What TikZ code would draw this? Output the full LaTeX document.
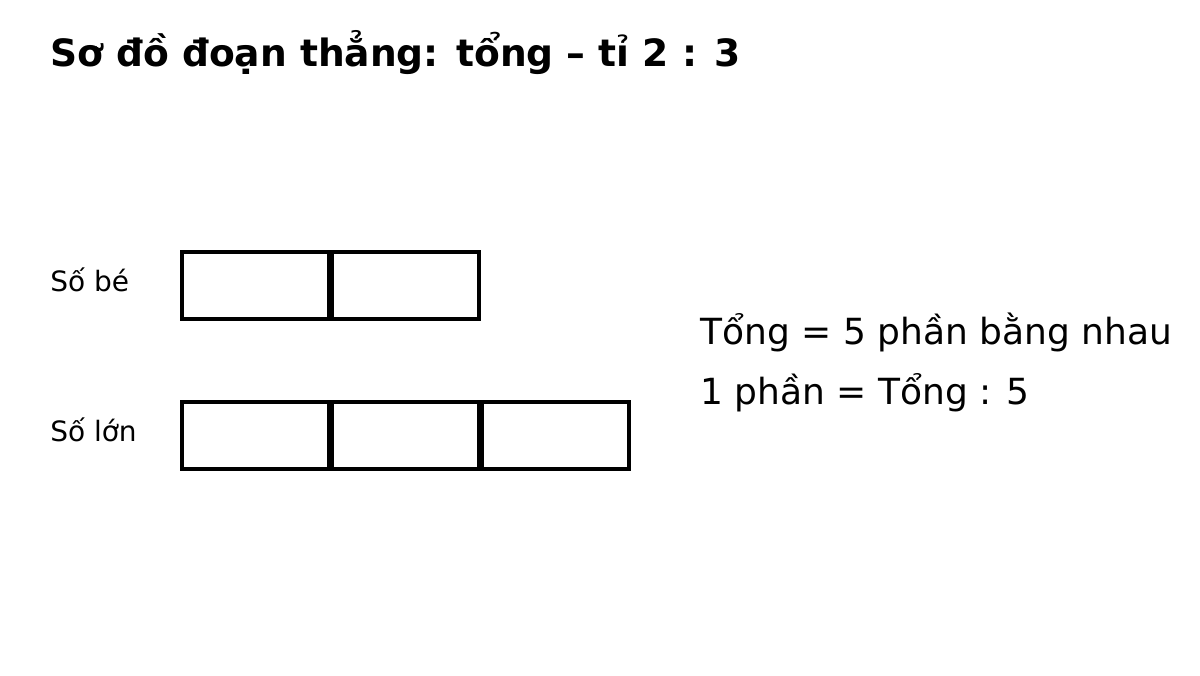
\documentclass[tikz,border=0pt]{standalone}
\usepackage{fontspec}
\setmainfont{DejaVu Sans}
\usetikzlibrary{positioning}

\tikzset{
  part/.style={draw,line width=2.6pt,minimum width=110.25pt,minimum height=50.25pt,inner sep=0pt,outer sep=0pt},
  lbl/.style={anchor=base west,inner sep=0pt,font=\fontsize{21}{25}\selectfont},
  note/.style={anchor=base west,inner sep=0pt,font=\fontsize{27}{32}\selectfont}
}

\begin{document}
\begin{tikzpicture}[x=0.75pt,y=-0.75pt]
      \useasboundingbox (0,0) rectangle (1200,675);
      \node[anchor=base west,inner sep=0pt,font=\fontsize{28.2}{34}\selectfont\bfseries] (title) at (50,66) {Sơ đồ đoạn thẳng: tổng – tỉ 2 : 3};

      \node[lbl] (sobe) at (50,291) {Số bé};
      \node[lbl] (solon) at (50,441) {Số lớn};

      \node[part,anchor=north west] (be1) at (182,252) {};
      \node[part,right=2.25pt of be1] (be2) {};

      \node[part,anchor=north west] (lon1) at (182,402) {};
      \node[part,right=2.25pt of lon1] (lon2) {};
      \node[part,right=2.25pt of lon2] (lon3) {};

      \node[note] (tong) at (700,344) {Tổng = 5 phần bằng nhau};
      \node[note] (mot) at (700,404) {1 phần = Tổng : 5};
    \end{tikzpicture}
\end{document}
